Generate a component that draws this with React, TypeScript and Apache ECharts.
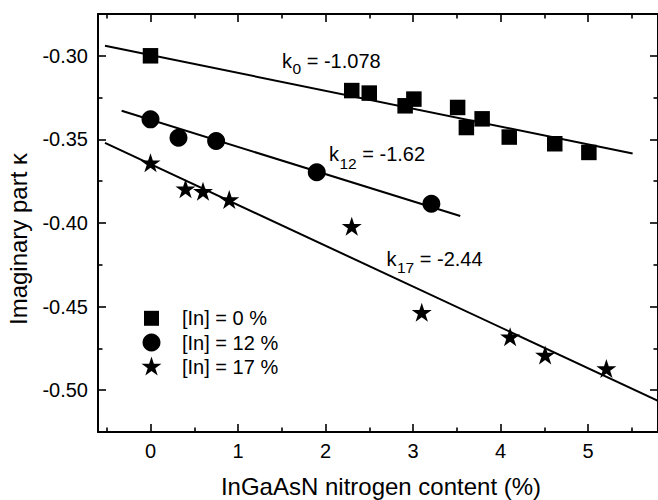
import React, { useEffect, useRef } from 'react';
import * as echarts from 'echarts';

const FONT = '"Liberation Sans", Arial, Helvetica, sans-serif';

// ---- axis ticks ----
const xMin = -0.6;
const xMax = 5.8;
const yMin = -0.525;
const yMax = -0.275;
const xTickValues = [0, 1, 2, 3, 4, 5];
const xMinorTickValues = [-0.5, 0.5, 1.5, 2.5, 3.5, 4.5, 5.5];
const yTickValues = [-0.5, -0.45, -0.4, -0.35, -0.3];
const yMinorTickValues = [-0.475, -0.425, -0.375, -0.325];

// ---- data: [In] = 0 % ----
const in0X = [0, 2.3, 2.5, 2.91, 3.01, 3.51, 3.61, 3.79, 4.1, 4.62, 5.01];
const in0Y = [-0.3, -0.3208, -0.3223, -0.3299, -0.3259, -0.3309, -0.3429, -0.3377, -0.3486, -0.3526, -0.3578];
// ---- data: [In] = 12 % ----
const in12X = [0, 0.32, 0.75, 1.9, 3.21];
const in12Y = [-0.338, -0.349, -0.351, -0.3696, -0.3885];
// ---- data: [In] = 17 % ----
const in17X = [0, 0.4, 0.6, 0.9, 2.3, 3.1, 4.11, 4.51, 5.21];
const in17Y = [-0.364, -0.3795, -0.381, -0.386, -0.402, -0.4534, -0.468, -0.479, -0.487];

// ---- linear fit end points ----
const fit0X = [-0.52, 5.51];
const fit0Y = [-0.294, -0.3584];
const fit12X = [-0.33, 3.54];
const fit12Y = [-0.3329, -0.3958];
const fit17X = [-0.52, 5.8];
const fit17Y = [-0.3521, -0.5063];

// ---- texts ----
const legendLabels = ['[In] = 0 %', '[In] = 12 %', '[In] = 17 %'];
const slopeSubs = ['0', '12', '17'];
const slopeValues = [' = -1.078', ' = -1.62', ' = -2.44'];
const xTitle = 'InGaAsN nitrogen content (%)';
const yTitle = 'Imaginary part κ';

const STAR_PATH =
  'path://M0,-10 L2.245,-3.09 L9.511,-3.09 L3.633,1.18 L5.878,8.09 L0,3.82 L-5.878,8.09 L-3.633,1.18 L-9.511,-3.09 L-2.245,-3.09 Z';

function zip(xs: number[], ys: number[]) {
  return xs.map((x, i) => [x, ys[i]]);
}

function textWidth(s: string, size: number) {
  const ctx = document.createElement('canvas').getContext('2d');
  if (!ctx) return s.length * size * 0.55;
  ctx.font = `${size}px "Liberation Sans", Arial, sans-serif`;
  return ctx.measureText(s).width;
}

function starPoints(cx: number, cy: number, R: number) {
  const r = R * 0.382;
  const pts: number[][] = [];
  for (let i = 0; i < 10; i++) {
    const a = -Math.PI / 2 + (i * Math.PI) / 5;
    const rad = i % 2 === 0 ? R : r;
    pts.push([cx + rad * Math.cos(a), cy + rad * Math.sin(a)]);
  }
  return pts;
}

const MAIN = 20;
const SUB = 15.5;

function slopeLabel(idx: number, x: number, yMain: number, ySub: number) {
  const kW = textWidth('k', MAIN);
  const sW = textWidth(slopeSubs[idx], SUB);
  const base = { fill: '#000', fontFamily: FONT, verticalAlign: 'middle', align: 'left' };
  return [
    { type: 'text', x, y: yMain, style: { ...base, text: 'k', fontSize: MAIN } },
    { type: 'text', x: x + kW + 0.5, y: ySub, style: { ...base, text: slopeSubs[idx], fontSize: SUB } },
    { type: 'text', x: x + kW + 0.5 + sW, y: yMain, style: { ...base, text: slopeValues[idx], fontSize: MAIN } },
  ];
}

export default function App() {
  const ref = useRef<HTMLDivElement>(null);

  useEffect(() => {
    if (!ref.current) return;
    const chart = echarts.init(ref.current, null, { renderer: 'svg' });

    const axisLineStyle = { color: '#000', width: 2 };
    const tickStyle = { color: '#000', width: 1.6 };

    const xAxisBase = {
      type: 'value',
      min: xMin,
      max: xMax,
      splitLine: { show: false },
      gridIndex: 0,
    };
    const yAxisBase = {
      type: 'value',
      min: yMin,
      max: yMax,
      splitLine: { show: false },
      gridIndex: 0,
    };

    const legendY = [318.3, 342.5, 366.5];

    const graphic: any[] = [
      // legend icons
      { type: 'rect', shape: { x: 144, y: legendY[0] - 7.5, width: 15, height: 15 }, style: { fill: '#000' } },
      { type: 'circle', shape: { cx: 151.5, cy: legendY[1], r: 9 }, style: { fill: '#000' } },
      { type: 'polygon', shape: { points: starPoints(151.5, legendY[2] + 0.5, 10.5) }, style: { fill: '#000' } },
      ...legendLabels.map((t, i) => ({
        type: 'text',
        x: 182,
        y: legendY[i],
        style: { text: t, fill: '#000', fontSize: MAIN, fontFamily: FONT, verticalAlign: 'middle', align: 'left' },
      })),
      ...slopeLabel(0, 282, 60.5, 68.5),
      ...slopeLabel(1, 329, 153.5, 163),
      ...slopeLabel(2, 386.5, 258.5, 267),
      {
        type: 'text',
        x: 381,
        y: 486.5,
        style: { text: xTitle, fill: '#000', fontSize: 24, fontFamily: FONT, align: 'center', verticalAlign: 'middle' },
      },
      {
        type: 'text',
        x: 18,
        y: 239,
        rotation: Math.PI / 2,
        style: { text: yTitle, fill: '#000', fontSize: 24, fontFamily: FONT, align: 'center', verticalAlign: 'middle' },
      },
    ];

    chart.setOption({
      animation: false,
      backgroundColor: '#fff',
      grid: { left: 98, top: 14, width: 565, height: 418, containLabel: false },
      xAxis: [
        {
          ...xAxisBase,
          position: 'bottom',
          axisLine: { show: true, onZero: false, lineStyle: axisLineStyle },
          axisTick: { show: true, inside: true, length: 8, lineStyle: tickStyle, customValues: xTickValues },
          axisLabel: {
            show: true,
            customValues: xTickValues,
            margin: 9,
            color: '#000',
            fontSize: MAIN,
            fontFamily: FONT,
            formatter: (v: number) => String(Math.round(v)),
          },
        },
        {
          ...xAxisBase,
          position: 'bottom',
          axisLine: { show: false, onZero: false },
          axisTick: { show: true, inside: true, length: 4.5, lineStyle: tickStyle, customValues: xMinorTickValues },
          axisLabel: { show: false },
        },
        {
          ...xAxisBase,
          position: 'top',
          axisLine: { show: true, onZero: false, lineStyle: axisLineStyle },
          axisTick: { show: true, inside: true, length: 8, lineStyle: tickStyle, customValues: xTickValues },
          axisLabel: { show: false },
        },
        {
          ...xAxisBase,
          position: 'top',
          axisLine: { show: false, onZero: false },
          axisTick: { show: true, inside: true, length: 4.5, lineStyle: tickStyle, customValues: xMinorTickValues },
          axisLabel: { show: false },
        },
      ],
      yAxis: [
        {
          ...yAxisBase,
          position: 'left',
          axisLine: { show: true, onZero: false, lineStyle: axisLineStyle },
          axisTick: { show: true, inside: true, length: 8, lineStyle: tickStyle, customValues: yTickValues },
          axisLabel: {
            show: true,
            customValues: yTickValues,
            margin: 10,
            color: '#000',
            fontSize: MAIN,
            fontFamily: FONT,
            formatter: (v: number) => v.toFixed(2),
          },
        },
        {
          ...yAxisBase,
          position: 'left',
          axisLine: { show: false, onZero: false },
          axisTick: { show: true, inside: true, length: 4.5, lineStyle: tickStyle, customValues: yMinorTickValues },
          axisLabel: { show: false },
        },
        {
          ...yAxisBase,
          position: 'right',
          axisLine: { show: true, onZero: false, lineStyle: axisLineStyle },
          axisTick: { show: true, inside: true, length: 8, lineStyle: tickStyle, customValues: yTickValues },
          axisLabel: { show: false },
        },
        {
          ...yAxisBase,
          position: 'right',
          axisLine: { show: false, onZero: false },
          axisTick: { show: true, inside: true, length: 4.5, lineStyle: tickStyle, customValues: yMinorTickValues },
          axisLabel: { show: false },
        },
      ],
      series: [
        {
          name: 'fit0',
          type: 'line',
          data: zip(fit0X, fit0Y),
          showSymbol: false,
          symbol: 'none',
          lineStyle: { color: '#000', width: 2 },
          z: 1,
          silent: true,
        },
        {
          name: 'fit12',
          type: 'line',
          data: zip(fit12X, fit12Y),
          showSymbol: false,
          symbol: 'none',
          lineStyle: { color: '#000', width: 2 },
          z: 1,
          silent: true,
        },
        {
          name: 'fit17',
          type: 'line',
          data: zip(fit17X, fit17Y),
          showSymbol: false,
          symbol: 'none',
          lineStyle: { color: '#000', width: 2 },
          z: 1,
          silent: true,
        },
        {
          name: legendLabels[0],
          type: 'scatter',
          data: zip(in0X, in0Y),
          symbol: 'rect',
          symbolSize: 15.5,
          itemStyle: { color: '#000', opacity: 1 },
          z: 3,
        },
        {
          name: legendLabels[1],
          type: 'scatter',
          data: zip(in12X, in12Y),
          symbol: 'circle',
          symbolSize: 18,
          itemStyle: { color: '#000', opacity: 1 },
          z: 3,
        },
        {
          name: legendLabels[2],
          type: 'scatter',
          data: zip(in17X, in17Y),
          symbol: STAR_PATH,
          symbolSize: 20,
          symbolKeepAspect: true,
          itemStyle: { color: '#000', opacity: 1 },
          z: 3,
        },
      ],
      graphic,
    });

    return () => {
      chart.dispose();
    };
  }, []);

  return (
    <div
      ref={ref}
      style={{ position: 'fixed', left: 0, top: 0, width: 658, height: 500, background: '#fff' }}
    />
  );
}
